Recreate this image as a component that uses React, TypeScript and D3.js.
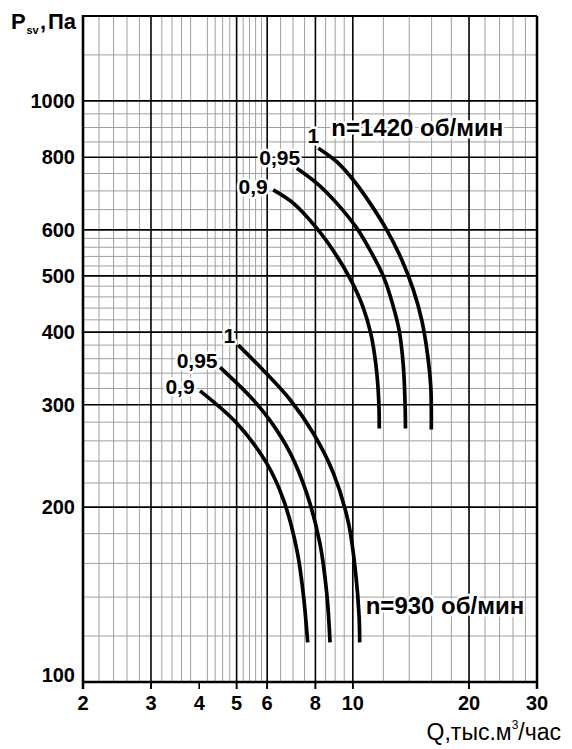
import React from "react";
import * as d3 from "d3";

// ---- data ----
const xTickValues = [2, 3, 4, 5, 6, 8, 10, 20, 30];
const yTickValues = [100, 200, 300, 400, 500, 600, 800, 1000];
const xMajorGrid = [3, 5, 6, 8, 10, 20];
const xMinorGrid = [2.2, 2.4, 2.6, 2.8, 3.2, 3.4, 3.6, 3.8, 4.2, 4.4, 4.6, 4.8, 5.2, 5.4, 5.6, 5.8, 6.5, 7, 7.5, 8.5, 9, 9.5, 12, 14, 16, 18, 22, 24, 26, 28];
const yMajorGrid = [200, 300, 400, 500, 600, 800, 1000];
const yMinorGrid = [120, 140, 160, 180, 220, 240, 260, 280, 320, 340, 360, 380, 420, 440, 460, 480, 520, 540, 560, 580, 650, 700, 750, 850, 900, 950, 1200];

// n = 1420 rpm curves: [Q thousand m3/h, Psv Pa]
const n1420_k1: [number, number][] = [[8.14, 829], [9.08, 786], [10.03, 731], [11.08, 667], [12.24, 600], [13.39, 533], [14.35, 473], [15.08, 420], [15.6, 368], [15.92, 322], [15.97, 272]];
const n1420_k095: [number, number][] = [[7.16, 766], [8.06, 722], [9.08, 667], [10.24, 604], [11.19, 547], [12.0, 499], [12.73, 443], [13.2, 401], [13.52, 349], [13.66, 300], [13.69, 273]];
const n1420_k09: [number, number][] = [[6.22, 703], [7.01, 667], [8.06, 604], [8.99, 547], [9.88, 492], [10.61, 443], [11.13, 398], [11.49, 349], [11.67, 306], [11.71, 273]];
// n = 930 rpm curves
const n930_k1: [number, number][] = [[5.05, 380], [5.86, 344], [6.88, 306], [7.9, 268], [8.9, 229], [9.74, 188], [10.19, 152], [10.38, 130], [10.42, 117]];
const n930_k095: [number, number][] = [[4.53, 348], [5.42, 310], [6.1, 282], [6.88, 248], [7.6, 211], [8.22, 173], [8.56, 142], [8.73, 117]];
const n930_k09: [number, number][] = [[4.02, 317], [5.0, 279], [5.98, 238], [6.61, 206], [7.16, 169], [7.44, 142], [7.64, 117]];

const curveLabels = ["1", "0,95", "0,9"];
const speedLabels = ["n=1420 об/мин", "n=930 об/мин"];

const W = 572;
const H = 749;
const L = 83, R = 537, T = 16, B = 682;

const FONT = "'Liberation Sans', Arial, Helvetica, sans-serif";

export default function App() {
  const x = d3.scaleLog().domain([2, 30]).range([L, R]);
  const y = d3.scaleLog().domain([100, 1400]).range([B, T]);
  const line = d3
    .line<[number, number]>()
    .x((d) => x(d[0]))
    .y((d) => y(d[1]))
    .curve(d3.curveCatmullRom.alpha(0.5));

  const groups = [
    { curves: [n1420_k1, n1420_k095, n1420_k09], offs: [[-5, -13], [-17, -11], [-20, -3]] },
    { curves: [n930_k1, n930_k095, n930_k09], offs: [[-9, -10], [-23, -7], [-20, -4]] },
  ];

  const halo = { stroke: "#fff", strokeWidth: 5, paintOrder: "stroke" as const, strokeLinejoin: "round" as const };
  const last930 = n930_k1[n930_k1.length - 1];

  return (
    <svg width={W} height={H} style={{ position: "absolute", left: 0, top: 0, background: "#fff" }} fontFamily={FONT}>
      <rect x={0} y={0} width={W} height={H} fill="#fff" />
      {/* minor grid */}
      {xMinorGrid.map((v) => (
        <line key={"xm" + v} x1={x(v)} x2={x(v)} y1={T} y2={B} stroke="#a0a0a0" strokeWidth={1} />
      ))}
      {yMinorGrid.map((v) => (
        <line key={"ym" + v} x1={L} x2={R} y1={y(v)} y2={y(v)} stroke="#a0a0a0" strokeWidth={1} />
      ))}
      {/* major grid */}
      {xMajorGrid.map((v) => (
        <line key={"xM" + v} x1={x(v)} x2={x(v)} y1={T} y2={B + 7} stroke="#000" strokeWidth={1.6} />
      ))}
      {yMajorGrid.map((v) => (
        <line key={"yM" + v} x1={L} x2={R} y1={y(v)} y2={y(v)} stroke="#000" strokeWidth={1.6} />
      ))}
      {/* ticks for labelled values */}
      {xTickValues.map((v) => (
        <line key={"xt" + v} x1={x(v)} x2={x(v)} y1={B} y2={B + 7} stroke="#000" strokeWidth={1.6} />
      ))}
      {/* frame */}
      <line x1={L} x2={R} y1={T} y2={T} stroke="#000" strokeWidth={2} />
      <line x1={R} x2={R} y1={T} y2={B + 7} stroke="#000" strokeWidth={2.5} />
      <line x1={L} x2={R} y1={B} y2={B} stroke="#000" strokeWidth={2.6} />
      <line x1={L} x2={L} y1={T - 1} y2={B + 7} stroke="#000" strokeWidth={2.6} />

      {/* curves */}
      {groups.map((g, gi) =>
        g.curves.map((c, ci) => (
          <path key={"c" + gi + ci} d={line(c) || ""} fill="none" stroke="#000" strokeWidth={3.7} />
        ))
      )}
      {groups.map((g, gi) =>
        g.curves.map((c, ci) => (
          <text
            key={"l" + gi + ci}
            x={x(c[0][0]) + g.offs[ci][0]}
            y={y(c[0][1]) + g.offs[ci][1]}
            textAnchor="middle"
            dy="0.36em"
            fontSize={21}
            fontWeight="bold"
            {...halo}
          >
            {curveLabels[ci]}
          </text>
        ))
      )}
      {/* speed labels */}
      <text x={x(n1420_k1[0][0]) + 13} y={y(n1420_k1[0][1]) - 21} dy="0.36em" fontSize={24} fontWeight="bold" {...halo}>
        {speedLabels[0]}
      </text>
      <text x={x(last930[0]) + 6} y={y(last930[1]) - 37} dy="0.36em" fontSize={24} fontWeight="bold" {...halo}>
        {speedLabels[1]}
      </text>

      {/* axis labels */}
      {xTickValues.map((v) => (
        <text key={"xl" + v} x={x(v)} y={B + 28} textAnchor="middle" fontSize={20} fontWeight="bold">
          {v}
        </text>
      ))}
      {yTickValues.map((v) => (
        <text key={"yl" + v} x={L - 8} y={v === 100 ? y(v) - 7 : y(v)} dy="0.36em" textAnchor="end" fontSize={20} fontWeight="bold">
          {v}
        </text>
      ))}
      <text x={561} y={740} textAnchor="end" fontSize={23}>
        Q,тыс.м<tspan fontSize={12} dy={-11}>3</tspan>
        <tspan dy={11}>/час</tspan>
      </text>
      <text x={11} y={29} fontSize={22} fontWeight="bold">P</text>
      <text x={26.5} y={34} fontSize={11} fontWeight="bold">sv</text>
      <text x={40} y={29} fontSize={22} fontWeight="bold">,</text>
      <text x={48} y={29} fontSize={22} fontWeight="bold">Па</text>
    </svg>
  );
}
